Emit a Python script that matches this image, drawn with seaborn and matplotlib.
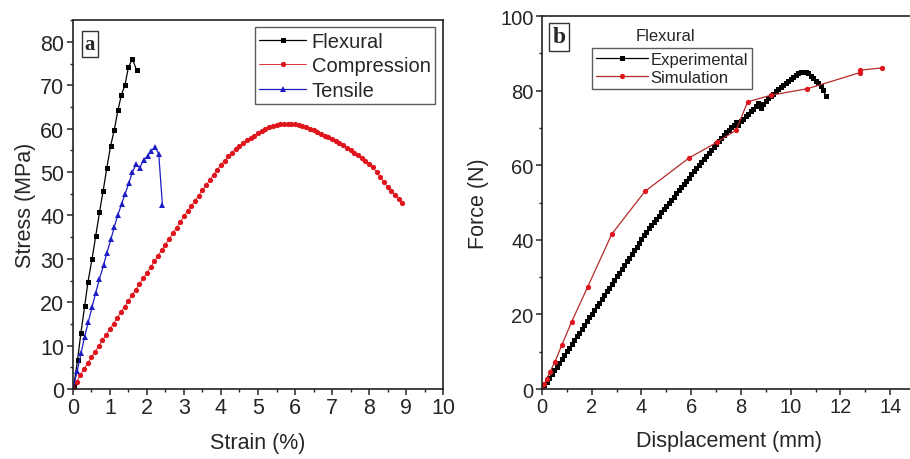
import numpy as np
import pandas as pd
import matplotlib
matplotlib.use("Agg")
import matplotlib.pyplot as plt
from matplotlib.ticker import MultipleLocator
import seaborn as sns

# ---- panel a: stress-strain ----
flex_strain = [0.0, 0.03, 0.13, 0.22, 0.32, 0.41, 0.52, 0.62, 0.72, 0.82, 0.92,
               1.02, 1.12, 1.22, 1.31, 1.41, 1.50, 1.61, 1.72]
flex_stress = [0.0, 0.8, 6.8, 13.0, 19.1, 24.7, 30.0, 35.3, 40.7, 45.7, 51.0,
               56.0, 59.7, 64.3, 67.7, 70.1, 74.1, 76.1, 73.5]

comp_strain = [0.0, 0.1, 0.2, 0.3, 0.4, 0.5, 0.6, 0.7, 0.8, 0.9,
               1.0, 1.1, 1.2, 1.3, 1.4, 1.5, 1.6, 1.7, 1.8, 1.9,
               2.0, 2.1, 2.2, 2.3, 2.4, 2.5, 2.6, 2.7, 2.8, 2.9,
               3.0, 3.1, 3.2, 3.3, 3.4, 3.5, 3.6, 3.7, 3.8, 3.9,
               4.0, 4.1, 4.2, 4.3, 4.4, 4.5, 4.6, 4.7, 4.8, 4.9,
               5.0, 5.1, 5.2, 5.3, 5.4, 5.5, 5.6, 5.7, 5.8, 5.9,
               6.0, 6.1, 6.2, 6.3, 6.4, 6.5, 6.6, 6.7, 6.8, 6.9,
               7.0, 7.1, 7.2, 7.3, 7.4, 7.5, 7.6, 7.7, 7.8, 7.9,
               8.0, 8.1, 8.2, 8.3, 8.4, 8.5, 8.6, 8.7, 8.8, 8.9]
comp_stress = [0.0, 1.7, 3.2, 4.6, 5.9, 7.3, 8.6, 9.9, 11.2, 12.5,
               13.8, 15.1, 16.4, 17.7, 19.0, 20.3, 21.6, 22.9, 24.2, 25.5,
               26.8, 28.1, 29.4, 30.7, 32.0, 33.3, 34.6, 35.9, 37.2, 38.5,
               39.8, 41.0, 42.2, 43.4, 44.6, 45.8, 47.0, 48.2, 49.4, 50.5,
               51.7, 52.6, 53.6, 54.5, 55.3, 56.0, 56.7, 57.3, 57.9, 58.4,
               58.9, 59.4, 59.9, 60.3, 60.6, 60.8, 61.0, 61.1, 61.1, 61.1,
               61.0, 60.8, 60.6, 60.3, 60.0, 59.6, 59.2, 58.8, 58.4, 58.0,
               57.6, 57.2, 56.7, 56.2, 55.6, 55.1, 54.5, 53.9, 53.3, 52.6,
               51.9, 51.1, 50.0, 48.8, 47.6, 46.6, 45.7, 44.8, 43.9, 42.8]

tens_strain = [0.0, 0.12, 0.22, 0.32, 0.42, 0.52, 0.62, 0.72, 0.83, 0.92,
               1.03, 1.12, 1.22, 1.32, 1.41, 1.51, 1.61, 1.71, 1.81, 1.91,
               2.02, 2.12, 2.22, 2.32, 2.42]
tens_stress = [0.0, 4.2, 8.2, 12.1, 15.5, 18.9, 22.2, 25.4, 28.5, 31.4,
               34.5, 37.4, 40.2, 42.7, 44.9, 47.4, 50.0, 51.8, 51.0, 52.8,
               53.7, 54.9, 55.7, 54.2, 42.4]

# ---- panel b: force-displacement (flexural) ----
exp_disp = [0.0, 0.1, 0.2, 0.3, 0.4, 0.5, 0.6, 0.7, 0.8, 0.9,
            1.0, 1.1, 1.2, 1.3, 1.4, 1.5, 1.6, 1.7, 1.8, 1.9,
            2.0, 2.1, 2.2, 2.3, 2.4, 2.5, 2.6, 2.7, 2.8, 2.9,
            3.0, 3.1, 3.2, 3.3, 3.4, 3.5, 3.6, 3.7, 3.8, 3.9,
            4.0, 4.1, 4.2, 4.3, 4.4, 4.5, 4.6, 4.7, 4.8, 4.9,
            5.0, 5.1, 5.2, 5.3, 5.4, 5.5, 5.6, 5.7, 5.8, 5.9,
            6.0, 6.1, 6.2, 6.3, 6.4, 6.5, 6.6, 6.7, 6.8, 6.9,
            7.0, 7.1, 7.2, 7.3, 7.4, 7.5, 7.6, 7.7, 7.8, 7.9,
            8.0, 8.1, 8.2, 8.3, 8.4, 8.5, 8.6, 8.7, 8.8, 8.9,
            9.0, 9.1, 9.2, 9.3, 9.4, 9.5, 9.6, 9.7, 9.8, 9.9,
            10.0, 10.1, 10.2, 10.3, 10.4, 10.5, 10.6, 10.7, 10.8, 10.9,
            11.0, 11.1, 11.2, 11.3, 11.4]
exp_force = [0.0, 1.0, 2.0, 3.0, 4.0, 5.0, 6.0, 7.0, 8.0, 9.1,
             10.1, 11.1, 12.1, 13.1, 14.1, 15.1, 16.1, 17.1, 18.2, 19.2,
             20.2, 21.2, 22.2, 23.2, 24.2, 25.2, 26.2, 27.2, 28.2, 29.2,
             30.2, 31.2, 32.2, 33.2, 34.2, 35.2, 36.2, 37.2, 38.2, 39.2,
             40.2, 41.2, 42.2, 43.1, 44.0, 44.8, 45.7, 46.5, 47.4, 48.2,
             49.1, 49.9, 50.8, 51.6, 52.5, 53.3, 54.2, 55.0, 55.9, 56.7,
             57.6, 58.4, 59.3, 60.1, 61.0, 61.8, 62.6, 63.4, 64.2, 65.0,
             65.8, 66.6, 67.3, 68.1, 68.8, 69.5, 70.2, 70.9, 71.5, 70.9,
             71.8, 72.5, 73.1, 73.8, 74.5, 75.2, 76.0, 76.8, 75.3, 76.3,
             77.3, 78.0, 78.6, 79.2, 79.8, 80.4, 80.9, 81.5, 82.0, 82.5,
             83.1, 83.7, 84.3, 84.7, 84.9, 84.9, 84.9, 84.6, 83.9, 83.3,
             82.7, 82.0, 81.2, 80.2, 78.6]

sim_disp = [0.0, 0.08, 0.2, 0.32, 0.52, 0.79, 1.19, 1.83, 2.81, 4.14,
            5.92, 7.02, 7.80, 8.27, 9.22, 10.66, 12.77, 12.80, 13.68]
sim_force = [0.0, 1.3, 2.7, 4.6, 7.3, 11.7, 18.0, 27.3, 41.6, 53.0,
             62.0, 66.1, 69.4, 77.0, 78.8, 80.5, 84.8, 85.5, 86.1]

sns.set_style("ticks")
plt.rcParams["font.family"] = ["Liberation Sans", "DejaVu Sans"]
plt.rcParams["axes.linewidth"] = 1.2
plt.rcParams["xtick.major.width"] = 1.1
plt.rcParams["ytick.major.width"] = 1.1
plt.rcParams["xtick.minor.width"] = 1.0
plt.rcParams["ytick.minor.width"] = 1.0
plt.rcParams["xtick.major.size"] = 4
plt.rcParams["ytick.major.size"] = 4
plt.rcParams["xtick.minor.size"] = 2.5
plt.rcParams["ytick.minor.size"] = 2.5
plt.rcParams["axes.edgecolor"] = "#222222"

fig = plt.figure(figsize=(9.1, 4.6), dpi=100)
ax1 = fig.add_axes([0.080, 0.152, 0.407, 0.802])
ax2 = fig.add_axes([0.5956, 0.152, 0.41, 0.811])

RED = "#e0141c"
BLUE = "#1c1cc4"

df_flex = pd.DataFrame({"x": flex_strain, "y": flex_stress})
df_comp = pd.DataFrame({"x": comp_strain, "y": comp_stress})
df_tens = pd.DataFrame({"x": tens_strain, "y": tens_stress})

sns.lineplot(data=df_flex, x="x", y="y", ax=ax1, sort=False, estimator=None,
             color="black", lw=0.9, marker="s", markersize=3.6,
             markeredgewidth=0, label="Flexural")
sns.lineplot(data=df_comp, x="x", y="y", ax=ax1, sort=False, estimator=None,
             color=RED, lw=0.6, marker="o", markersize=3.8,
             markeredgewidth=0, label="Compression")
sns.lineplot(data=df_tens, x="x", y="y", ax=ax1, sort=False, estimator=None,
             color=BLUE, lw=0.9, marker="^", markersize=4.4,
             markeredgewidth=0, label="Tensile")

ax1.set_xlim(0, 10)
ax1.set_ylim(0, 85)
ax1.xaxis.set_major_locator(MultipleLocator(1))
ax1.xaxis.set_minor_locator(MultipleLocator(0.5))
ax1.yaxis.set_major_locator(MultipleLocator(10))
ax1.yaxis.set_minor_locator(MultipleLocator(5))
ax1.tick_params(which="both", direction="out", labelsize=15.5, pad=2)
ax1.set_xlabel("Strain (%)", fontsize=15.5, labelpad=10)
ax1.set_ylabel("Stress (MPa)", fontsize=15.5, labelpad=3)
for s in ax1.spines.values():
    s.set_visible(True)

leg1 = ax1.legend(loc="upper right", bbox_to_anchor=(0.978, 0.981),
                  borderaxespad=0, fontsize=14.5, frameon=True, fancybox=False,
                  handlelength=2.3, handletextpad=0.3, labelspacing=0.28,
                  borderpad=0.22, edgecolor="#333333")
leg1.get_frame().set_linewidth(1.0)

ax1.text(0.046, 0.936, "a", transform=ax1.transAxes, ha="center", va="center",
         fontsize=15, fontweight="bold", family="Liberation Serif",
         bbox=dict(boxstyle="square,pad=0.15", fc="white", ec="#333333", lw=1.0))

# panel b
df_exp = pd.DataFrame({"x": exp_disp, "y": exp_force})
df_sim = pd.DataFrame({"x": sim_disp, "y": sim_force})

sns.lineplot(data=df_exp, x="x", y="y", ax=ax2, sort=False, estimator=None,
             color="black", lw=0.9, marker="s", markersize=3.6,
             markeredgewidth=0, label="Experimental")
sns.lineplot(data=df_sim, x="x", y="y", ax=ax2, sort=False, estimator=None,
             color="#b52a2a", lw=0.9, marker="o", markersize=3.8,
             markerfacecolor=RED, markeredgewidth=0, label="Simulation")

ax2.set_xlim(0, 15)
ax2.set_ylim(0, 100)
ax2.xaxis.set_major_locator(MultipleLocator(2))
ax2.xaxis.set_minor_locator(MultipleLocator(1))
ax2.yaxis.set_major_locator(MultipleLocator(20))
ax2.yaxis.set_minor_locator(MultipleLocator(10))
ax2.tick_params(which="both", direction="out", labelsize=14.5, pad=2)
ax2.set_xlabel("Displacement (mm)", fontsize=15.5, labelpad=10)
ax2.set_ylabel("Force (N)", fontsize=15.5, labelpad=8)
ax2.spines["top"].set_visible(True)
ax2.spines["right"].set_visible(True)

leg2 = ax2.legend(loc="upper left", bbox_to_anchor=(0.134, 0.914),
                  borderaxespad=0, fontsize=12, frameon=True, fancybox=False,
                  handlelength=3.1, handletextpad=0.15, labelspacing=0.15,
                  borderpad=0.25, edgecolor="#333333")
leg2.get_frame().set_linewidth(1.0)
ax2.text(0.252, 0.949, "Flexural", transform=ax2.transAxes, ha="left",
         va="center", fontsize=12)

ax2.text(0.046, 0.944, "b", transform=ax2.transAxes, ha="center", va="center",
         fontsize=17, fontweight="bold", family="Liberation Serif",
         bbox=dict(boxstyle="square,pad=0.15", fc="white", ec="#333333", lw=1.0))

fig.savefig("out.png", dpi=100)
